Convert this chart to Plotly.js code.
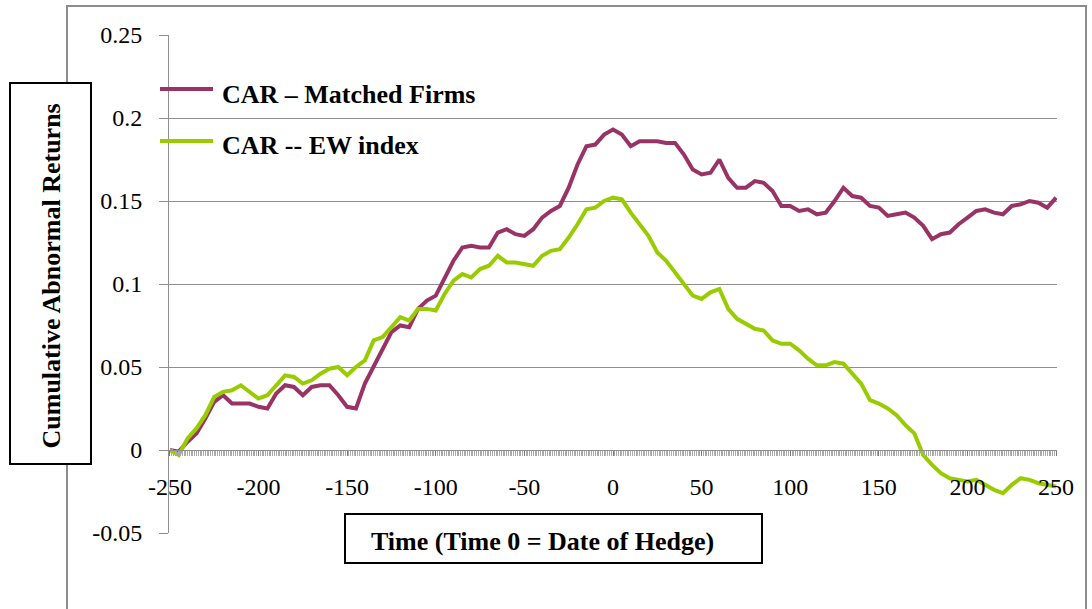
<!DOCTYPE html>
<html>
<head>
<meta charset="utf-8">
<script src="https://cdn.plot.ly/plotly-3.0.1.min.js"></script>
<style>
html,body{margin:0;padding:0;background:#fff;}
#chart{width:1092px;height:609px;}
</style>
</head>
<body>
<div id="chart"></div>
<script>
// ---- Data (every 5 days) ----
var days = [-250,-245,-240,-235,-230,-225,-220,-215,-210,-205,-200,-195,-190,-185,-180,-175,-170,-165,-160,-155,
  -150,-145,-140,-135,-130,-125,-120,-115,-110,-105,-100,-95,-90,-85,-80,-75,-70,-65,-60,-55,
  -50,-45,-40,-35,-30,-25,-20,-15,-10,-5,0,5,10,15,20,25,30,35,40,45,
  50,55,60,65,70,75,80,85,90,95,100,105,110,115,120,125,130,135,140,145,
  150,155,160,165,170,175,180,185,190,195,200,205,210,215,220,225,230,235,240,245,250];

var carMatched = [0.000,-0.001,0.005,0.010,0.019,0.029,0.033,0.028,0.028,0.028,0.026,0.025,0.034,0.039,0.038,0.033,0.038,0.039,0.039,0.033,
  0.026,0.025,0.040,0.050,0.060,0.071,0.075,0.074,0.085,0.090,0.093,0.103,0.114,0.122,0.123,0.122,0.122,0.131,0.133,0.130,
  0.129,0.133,0.140,0.144,0.147,0.158,0.172,0.183,0.184,0.190,0.193,0.190,0.183,0.186,0.186,0.186,0.185,0.185,0.178,0.169,
  0.166,0.167,0.175,0.164,0.158,0.158,0.162,0.161,0.156,0.147,0.147,0.144,0.145,0.142,0.143,0.150,0.158,0.153,0.152,0.147,
  0.146,0.141,0.142,0.143,0.140,0.135,0.127,0.130,0.131,0.136,0.140,0.144,0.145,0.143,0.142,0.147,0.148,0.150,0.149,0.146,0.152];

var carEW = [0.000,-0.003,0.007,0.013,0.021,0.032,0.035,0.036,0.039,0.035,0.031,0.033,0.039,0.045,0.044,0.040,0.042,0.046,0.049,0.050,
  0.045,0.050,0.054,0.066,0.068,0.074,0.080,0.078,0.085,0.085,0.084,0.094,0.102,0.106,0.104,0.109,0.111,0.117,0.113,0.113,
  0.112,0.111,0.117,0.120,0.121,0.128,0.136,0.145,0.146,0.150,0.152,0.151,0.143,0.136,0.129,0.119,0.114,0.107,0.100,0.093,
  0.091,0.095,0.097,0.085,0.079,0.076,0.073,0.072,0.066,0.064,0.064,0.060,0.055,0.051,0.051,0.053,0.052,0.046,0.040,0.030,
  0.028,0.025,0.021,0.015,0.010,-0.003,-0.009,-0.014,-0.017,-0.018,-0.019,-0.018,-0.021,-0.024,-0.026,-0.021,-0.017,-0.018,-0.020,-0.021,-0.022];

var seriesNames = ['CAR \u2013 Matched Firms', 'CAR -- EW index'];
var seriesColors = ['#993366', '#99CC00'];

var xTickVals = [-250,-200,-150,-100,-50,0,50,100,150,200,250];
var xTickLabels = ['-250','-200','-150','-100','-50','0','50','100','150','200','250'];
var yTickVals = [-0.05,0,0.05,0.1,0.15,0.2,0.25];
var yTickLabels = ['-0.05','0','0.05','0.1','0.15','0.2','0.25'];

var xTitle = 'Time (Time 0 = Date of Hedge)';
var yTitle = 'Cumulative Abnormal Returns';

// ---- Layout helpers ----
var W = 1092, H = 609;
var M = {l:169, r:35, t:35, b:76};
var PW = W - M.l - M.r, PH = H - M.t - M.b;
function px(x){ return (x - M.l) / PW; }
function py(y){ return (H - M.b - y) / PH; }

var FONT = 'Liberation Serif';
var GRID = '#8f8f8f';

var traces = [
  {x: days, y: carMatched, type:'scatter', mode:'lines', name: seriesNames[0],
   line:{color: seriesColors[0], width:4}, showlegend:false, hoverinfo:'skip'},
  {x: days, y: carEW, type:'scatter', mode:'lines', name: seriesNames[1],
   line:{color: seriesColors[1], width:4}, showlegend:false, hoverinfo:'skip'}
];

var shapes = [
  {type:'rect', xref:'paper', yref:'paper', x0:px(67), x1:px(1086), y0:py(620), y1:py(6),
   line:{color:'#8c8c8c', width:2}, fillcolor:'rgba(0,0,0,0)', layer:'below'},
  {type:'rect', xref:'paper', yref:'paper', x0:px(10), x1:px(91), y0:py(464), y1:py(83),
   line:{color:'#000', width:2}, fillcolor:'#fff', layer:'above'},
  {type:'rect', xref:'paper', yref:'paper', x0:px(345), x1:px(762), y0:py(563), y1:py(514),
   line:{color:'#000', width:2}, fillcolor:'#fff', layer:'above'},
  {type:'line', xref:'paper', yref:'paper', x0:px(160), x1:px(213), y0:py(89), y1:py(89),
   line:{color: seriesColors[0], width:4}},
  {type:'line', xref:'paper', yref:'paper', x0:px(160), x1:px(213), y0:py(141), y1:py(141),
   line:{color: seriesColors[1], width:4}}
];

var annotations = [
  {xref:'paper', yref:'paper', x:px(50.5), y:py(276), text: yTitle, textangle:-90, showarrow:false,
   xanchor:'center', yanchor:'middle', font:{family:FONT, size:26, color:'#000', weight:'bold'}},
  {xref:'paper', yref:'paper', x:px(542), y:py(541), text: xTitle, showarrow:false,
   xanchor:'center', yanchor:'middle', font:{family:FONT, size:26, color:'#000', weight:'bold'}},
  {xref:'paper', yref:'paper', x:px(220), y:py(94), text: seriesNames[0], showarrow:false,
   xanchor:'left', yanchor:'middle', font:{family:FONT, size:26, color:'#000', weight:'bold'}},
  {xref:'paper', yref:'paper', x:px(220), y:py(145), text: seriesNames[1], showarrow:false,
   xanchor:'left', yanchor:'middle', font:{family:FONT, size:26, color:'#000', weight:'bold'}}
];

var layout = {
  width: W, height: H,
  margin: M,
  paper_bgcolor:'#fff', plot_bgcolor:'#fff',
  showlegend:false,
  font:{family:FONT, color:'#000'},
  xaxis:{
    range:[-250.5, 250.5], anchor:'free', position: (0 - (-0.05)) / 0.30,
    tickmode:'array', tickvals:xTickVals, ticktext:xTickLabels,
    ticks:'outside', ticklen:5, tickcolor:'#777', tickwidth:1,
    minor:{tickmode:'linear', tick0:-250, dtick:1, ticks:'outside', ticklen:5, tickcolor:'#aaa', tickwidth:1, showgrid:false},
    showgrid:false, zeroline:false, showline:true, linecolor:GRID, linewidth:1,
    tickfont:{family:FONT, size:24, color:'#000'}, ticklabelstandoff:10,
    fixedrange:true
  },
  yaxis:{
    range:[-0.05, 0.25],
    tickmode:'array', tickvals:yTickVals, ticktext:yTickLabels,
    ticks:'outside', ticklen:9, tickcolor:GRID, tickwidth:1,
    showgrid:true, gridcolor:GRID, gridwidth:1, zeroline:false,
    showline:true, linecolor:GRID, linewidth:1,
    tickfont:{family:FONT, size:24, color:'#000'}, ticklabelstandoff:12,
    fixedrange:true
  },
  shapes: shapes,
  annotations: annotations
};

Plotly.newPlot('chart', traces, layout, {staticPlot:true, displayModeBar:false});
</script>
</body>
</html>
